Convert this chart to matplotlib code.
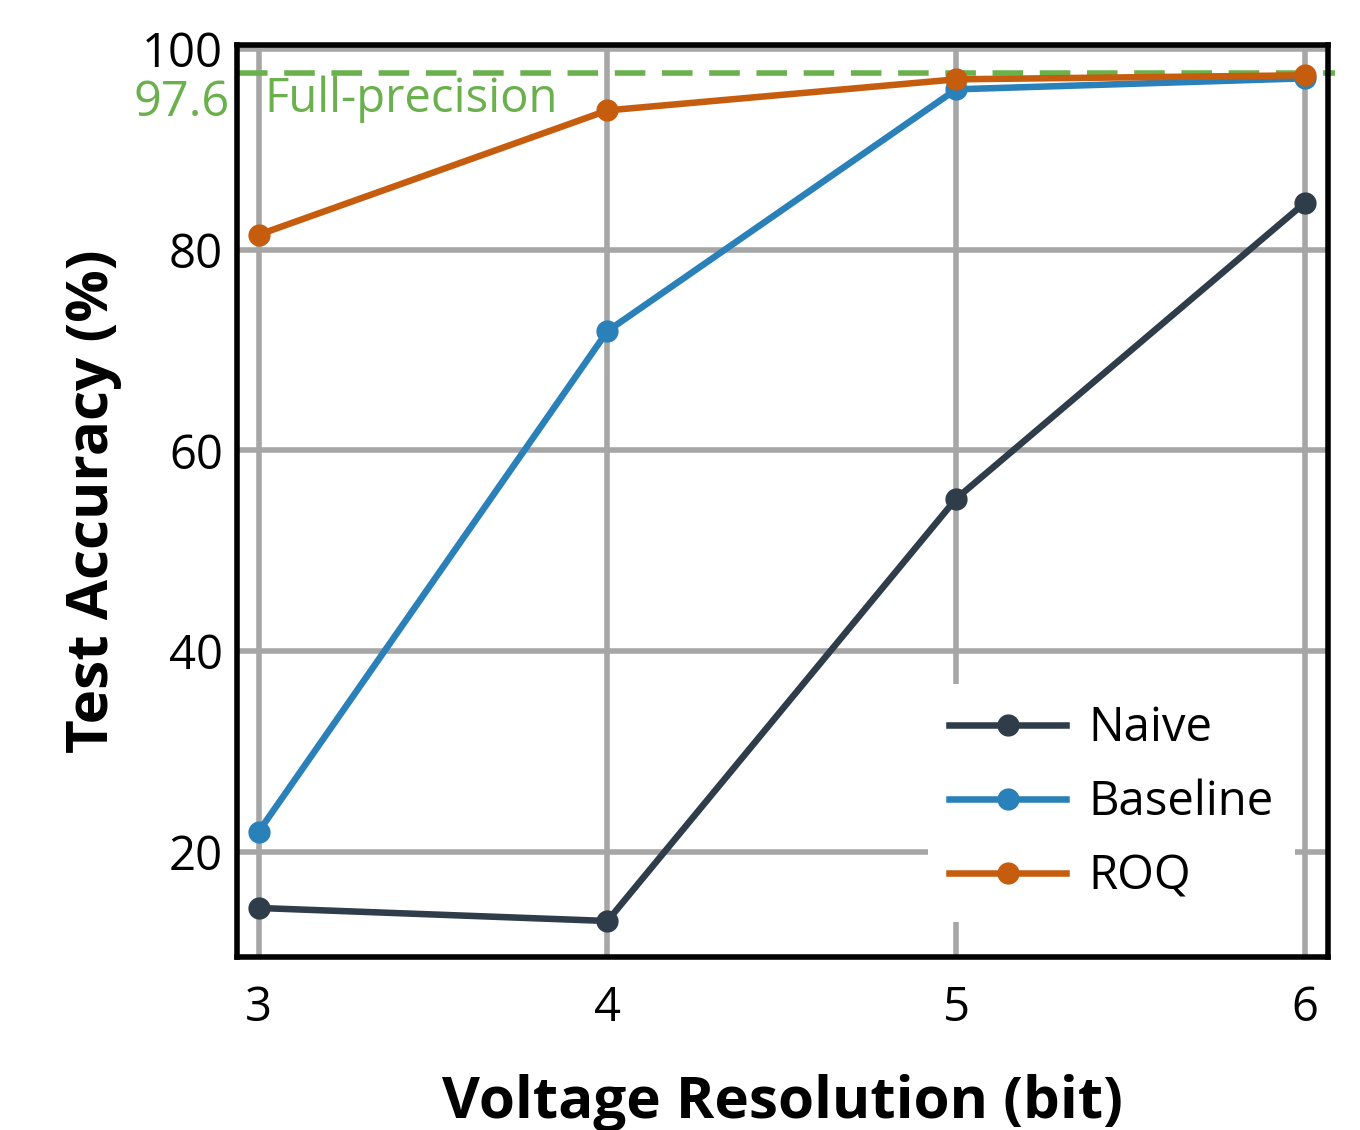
import matplotlib.pyplot as plt

bits = [3, 4, 5, 6]
naive = [14.4, 13.1, 55.2, 84.7]
baseline = [22.0, 71.9, 96.0, 97.1]
roq = [81.5, 93.9, 97.0, 97.4]
full_precision = 97.6

plt.rcParams['font.family'] = ['Open Sans', 'DejaVu Sans']

fig = plt.figure(figsize=(13.6, 11.3), dpi=100)
ax = fig.add_axes([0.174, 0.153, 0.8025, 0.807])

ax.plot(bits, naive, color='#2e3d49', lw=4.7, marker='o', ms=15, label='Naive', zorder=3)
ax.plot(bits, baseline, color='#2a80b9', lw=4.7, marker='o', ms=15, label='Baseline', zorder=3)
ax.plot(bits, roq, color='#c65d0e', lw=4.7, marker='o', ms=15, label='ROQ', zorder=4)

green = '#6ab04c'
ax.plot([2.937, 6.085], [full_precision, full_precision], color=green, lw=4, ls=(0, (5.5, 3)),
        clip_on=False, zorder=2.5)
ax.text(-0.006, 0.963, '97.6', color=green, fontsize=35, ha='right', va='top',
        transform=ax.transAxes)
ax.text(3.017, 97.4, 'Full-precision', color=green, fontsize=34, ha='left', va='top')

ax.set_xlim(2.937, 6.066)
ax.set_ylim(9.5, 100.4)
ax.set_xticks(bits)
ax.set_yticks([20, 40, 60, 80, 100])
ax.tick_params(length=0, labelsize=34, pad=10)
ax.tick_params(axis='x', pad=20)
ax.grid(True, color='#a6a6a6', lw=4)
ax.set_axisbelow(True)
for s in ax.spines.values():
    s.set_linewidth(4)
    s.set_color('black')

ax.set_xlabel('Voltage Resolution (bit)', fontsize=42, fontweight='bold', labelpad=30)
ax.set_ylabel('Test Accuracy (%)', fontsize=42, fontweight='bold', labelpad=14)

leg = ax.legend(loc='lower right', bbox_to_anchor=(0.9698, 0.039), borderaxespad=0,
                fontsize=34, frameon=True, framealpha=1, fancybox=False,
                handlelength=2.48, handletextpad=0.47, labelspacing=0.56, borderpad=0.45)
leg.get_frame().set_edgecolor('none')

fig.savefig('out.png')
